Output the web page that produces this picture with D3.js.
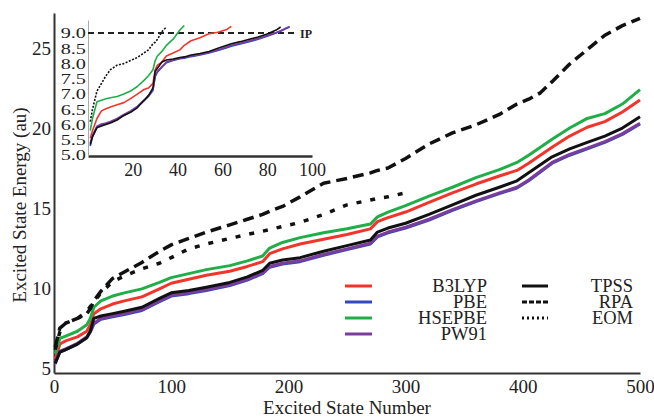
<!DOCTYPE html>
<html>
<head>
<meta charset="utf-8">
<script src="https://cdn.jsdelivr.net/npm/d3@7"></script>
<style>
  html, body { margin: 0; padding: 0; background: #fff; }
  svg { display: block; }
  text { font-family: "Liberation Serif", "Times New Roman", serif; fill: #222; }
</style>
</head>
<body>
<svg id="chart" width="654" height="418" font-family="Liberation Serif, serif"></svg>
<script>
// Excitation energies (au) sampled along the excited-state index
const mainStates = [1,5,10,20,28,31,34,40,50,60,75,90,100,115,130,150,165,178,184,195,210,230,250,270,276,285,300,320,340,360,380,395,405,415,425,440,455,470,485,500];
const b3lyp  = [5.55,6.5,6.7,6.95,7.3,7.7,8.4,8.7,9.0,9.2,9.45,9.95,10.3,10.55,10.8,11.05,11.35,11.65,12.15,12.45,12.75,13.05,13.35,13.7,14.15,14.4,14.75,15.35,15.95,16.5,17.0,17.35,17.8,18.3,18.8,19.5,20.05,20.4,21.0,21.75];
const pbe    = [5.25,6.0,6.15,6.5,6.9,7.25,7.75,8.05,8.2,8.35,8.6,9.15,9.5,9.65,9.85,10.15,10.5,10.9,11.3,11.5,11.65,12.05,12.4,12.75,13.2,13.45,13.75,14.25,14.85,15.4,15.9,16.25,16.7,17.25,17.8,18.3,18.7,19.1,19.6,20.25];
const hsepbe = [5.9,6.85,7.0,7.3,7.7,8.1,8.8,9.2,9.5,9.7,9.95,10.35,10.65,10.9,11.15,11.4,11.7,12.0,12.5,12.85,13.15,13.45,13.7,14.0,14.45,14.75,15.15,15.75,16.3,16.9,17.4,17.85,18.3,18.8,19.3,20.0,20.6,20.9,21.5,22.4];
const pw91   = [5.35,6.05,6.2,6.55,6.95,7.3,7.8,8.1,8.25,8.4,8.65,9.2,9.55,9.7,9.9,10.2,10.55,10.95,11.35,11.55,11.7,12.1,12.45,12.8,13.25,13.5,13.8,14.3,14.9,15.45,15.95,16.3,16.75,17.3,17.85,18.35,18.75,19.15,19.65,20.3];
const tpss   = [5.3,6.0,6.15,6.5,6.9,7.3,8.1,8.25,8.4,8.55,8.8,9.35,9.7,9.85,10.05,10.35,10.7,11.1,11.55,11.75,11.9,12.3,12.65,13.0,13.5,13.75,14.05,14.6,15.2,15.8,16.3,16.7,17.2,17.7,18.2,18.7,19.1,19.5,20.0,20.7];
const rpa    = [6.3,7.5,7.8,8.1,8.4,8.7,9.2,9.8,10.6,11.0,11.6,12.3,12.7,13.1,13.5,13.95,14.3,14.6,14.8,15.1,15.7,16.55,16.85,17.2,17.35,17.5,18.1,19.0,19.7,20.2,20.85,21.5,21.8,22.2,22.9,24.0,24.9,25.8,26.4,26.85];
// EOM is only available for the first 300 states
const eom    = [6.15,7.25,7.8,8.1,8.55,8.85,9.1,9.7,10.4,10.75,11.2,11.55,11.9,12.45,12.75,13.1,13.35,13.55,13.65,13.85,14.1,14.6,15.2,15.5,15.6,15.7,15.95];

// Low-lying states (inset); each series stops once it passes the IP
const insetStates = [1,2,4,6,8,10,13,16,19,22,25,27,29,30,31,33,35,38,41,43,46,50,54,58,62,64,68,72,76,80,84,86,88,90];
const insetB3lyp  = [5.55,5.8,6.2,6.45,6.52,6.58,6.65,6.72,6.85,7.0,7.15,7.2,7.35,7.8,7.95,8.05,8.25,8.35,8.45,8.6,8.75,8.85,8.98,9.03,9.12,9.22];
const insetPbe    = [5.3,5.6,5.92,6.0,6.03,6.08,6.18,6.3,6.42,6.58,6.78,6.92,7.12,7.58,7.72,7.88,8.03,8.1,8.16,8.18,8.23,8.28,8.35,8.43,8.52,8.57,8.64,8.72,8.8,8.9,9.0,9.06,9.13,9.2];
const insetHsepbe = [5.8,6.2,6.75,6.8,6.85,6.88,6.92,7.0,7.1,7.25,7.45,7.6,7.8,8.1,8.25,8.4,8.6,8.8,9.1,9.25];
const insetPw91   = [5.4,5.65,5.95,6.02,6.05,6.1,6.2,6.33,6.45,6.6,6.8,6.95,7.15,7.6,7.75,7.9,8.05,8.12,8.18,8.2,8.25,8.3,8.37,8.45,8.55,8.6,8.67,8.75,8.82,8.92,9.02,9.08,9.15,9.22];
const insetTpss   = [5.35,5.6,5.9,5.95,6.0,6.05,6.15,6.3,6.4,6.55,6.8,6.95,7.2,7.75,7.85,8.05,8.12,8.15,8.2,8.22,8.28,8.33,8.4,8.5,8.6,8.65,8.72,8.8,8.87,8.97,9.1,9.2];
const insetEom    = [6.1,6.5,7.1,7.35,7.6,7.8,7.95,8.0,8.1,8.2,8.35,8.45,8.65,8.7,8.8,9.05,9.2];
const ionizationPotential = 9.0;

const mainXTicks = [0,100,200,300,400,500];
const mainYTicks = [5,10,15,20,25];
const insetXTicks = [20,40,60,80,100];
const insetYTicks = [5.0,5.5,6.0,6.5,7.0,7.5,8.0,8.5,9.0];

const styles = {
  B3LYP:  { color: "#f2352b", dash: null },
  PBE:    { color: "#3249c2", dash: null },
  HSEPBE: { color: "#1fae48", dash: null },
  PW91:   { color: "#7a3d9c", dash: null },
  TPSS:   { color: "#111",    dash: null },
  RPA:    { color: "#111",    dash: "11,6" },
  EOM:    { color: "#111",    dash: "5,9" }
};

const mainSeries = [
  { name: "B3LYP",  values: b3lyp },
  { name: "HSEPBE", values: hsepbe },
  { name: "PBE",    values: pbe },
  { name: "PW91",   values: pw91 },
  { name: "TPSS",   values: tpss },
  { name: "RPA",    values: rpa },
  { name: "EOM",    values: eom }
];
const insetSeries = [
  { name: "B3LYP",  values: insetB3lyp },
  { name: "HSEPBE", values: insetHsepbe },
  { name: "PBE",    values: insetPbe },
  { name: "PW91",   values: insetPw91 },
  { name: "TPSS",   values: insetTpss },
  { name: "EOM",    values: insetEom }
];

const serif = "Liberation Serif, Times New Roman, serif";
const svg = d3.select("#chart");

// ---------- main panel ----------
const x = d3.scaleLinear().domain([0, 500]).range([54, 640]);
const y = d3.scaleLinear().domain([4.69, 27.19]).range([373, 13]);

const gx = svg.append("g").attr("transform", "translate(0,373)")
  .call(d3.axisBottom(x).tickValues(mainXTicks).tickSize(0).tickPadding(7).tickFormat(d3.format("d")));
const gy = svg.append("g").attr("transform", "translate(54,0)")
  .call(d3.axisLeft(y).tickValues(mainYTicks).tickSize(0).tickPadding(3).tickFormat(d3.format("d")));
[gx, gy].forEach(g => {
  g.attr("font-family", serif);
  g.select(".domain").attr("stroke", "#333").attr("stroke-width", 2);
  g.selectAll("text").style("font-size", "19px").attr("fill", "#222");
});

const line = d3.line().x((d, i) => x(mainStates[i])).y(d => y(d));
svg.append("g").selectAll("path").data(mainSeries).join("path")
  .attr("d", s => line(s.values))
  .attr("fill", "none")
  .attr("stroke", s => styles[s.name].color)
  .attr("stroke-width", s => (s.name === "RPA" || s.name === "EOM") ? 3.5 : 3)
  .attr("stroke-dasharray", s => styles[s.name].dash)
  .attr("stroke-linejoin", "round");

svg.append("text").attr("x", 347).attr("y", 414).attr("text-anchor", "middle")
  .style("font-size", "19px").text("Excited State Number");
svg.append("text").attr("transform", "translate(26,205) rotate(-90)").attr("text-anchor", "middle")
  .style("font-size", "19px").text("Excited State Energy (au)");

// ---------- legend ----------
const legendCols = [
  { names: ["B3LYP", "PBE", "HSEPBE", "PW91"], x1: 345, x2: 372, tx: 487 },
  { names: ["TPSS", "RPA", "EOM"], x1: 522, x2: 548, tx: 633 }
];
const legendDash = { RPA: "5,2", EOM: "2,3" };
legendCols.forEach(col => {
  const g = svg.append("g");
  const rows = g.selectAll("g").data(col.names).join("g")
    .attr("transform", (d, i) => `translate(0,${286 + i * 16})`);
  rows.append("line").attr("x1", col.x1).attr("x2", col.x2)
    .attr("stroke", d => styles[d].color).attr("stroke-width", 3)
    .attr("stroke-dasharray", d => legendDash[d] || null);
  rows.append("text").attr("x", col.tx).attr("y", 5.5).attr("text-anchor", "end")
    .style("font-size", "18.5px").text(d => d);
});

// ---------- inset: lowest states vs. IP ----------
const xi = d3.scaleLinear().domain([0, 100]).range([88, 312]);
const yi = d3.scaleLinear().domain([4.97, 9.43]).range([156, 20]);

const gix = svg.append("g").attr("transform", "translate(0,156)")
  .call(d3.axisBottom(xi).tickValues(insetXTicks).tickSize(0).tickPadding(7).tickFormat(d3.format("d")));
gix.attr("font-family", serif);
gix.select(".domain").attr("stroke", "#333").attr("stroke-width", 2.5);
gix.selectAll("text").style("font-size", "18px").attr("fill", "#222");

const giy = svg.append("g").attr("transform", "translate(88,0)")
  .call(d3.axisLeft(yi).tickValues(insetYTicks).tickSize(0).tickPadding(2).tickFormat(d3.format(".1f")));
giy.attr("font-family", serif);
giy.select(".domain").attr("stroke", "#aaa").attr("stroke-width", 1);
// wide, short numerals so the nine labels stack tightly
giy.selectAll("text").style("font-size", "15px").attr("fill", "#222")
  .attr("transform", "scale(1.35,1)").attr("x", -1.5);

svg.append("line").attr("x1", xi(0)).attr("x2", 298)
  .attr("y1", yi(ionizationPotential)).attr("y2", yi(ionizationPotential))
  .attr("stroke", "#222").attr("stroke-width", 2).attr("stroke-dasharray", "6,4");
svg.append("text").attr("x", 300).attr("y", yi(ionizationPotential) + 4.5)
  .style("font-size", "12px").style("font-weight", "bold").text("IP");

const iline = d3.line().x((d, i) => xi(insetStates[i])).y(d => yi(d));
svg.append("g").selectAll("path").data(insetSeries).join("path")
  .attr("d", s => iline(s.values))
  .attr("fill", "none")
  .attr("stroke", s => styles[s.name].color)
  .attr("stroke-width", 1.6)
  .attr("stroke-dasharray", s => s.name === "EOM" ? "2,1.5" : null)
  .attr("stroke-linejoin", "round");
</script>
</body>
</html>
